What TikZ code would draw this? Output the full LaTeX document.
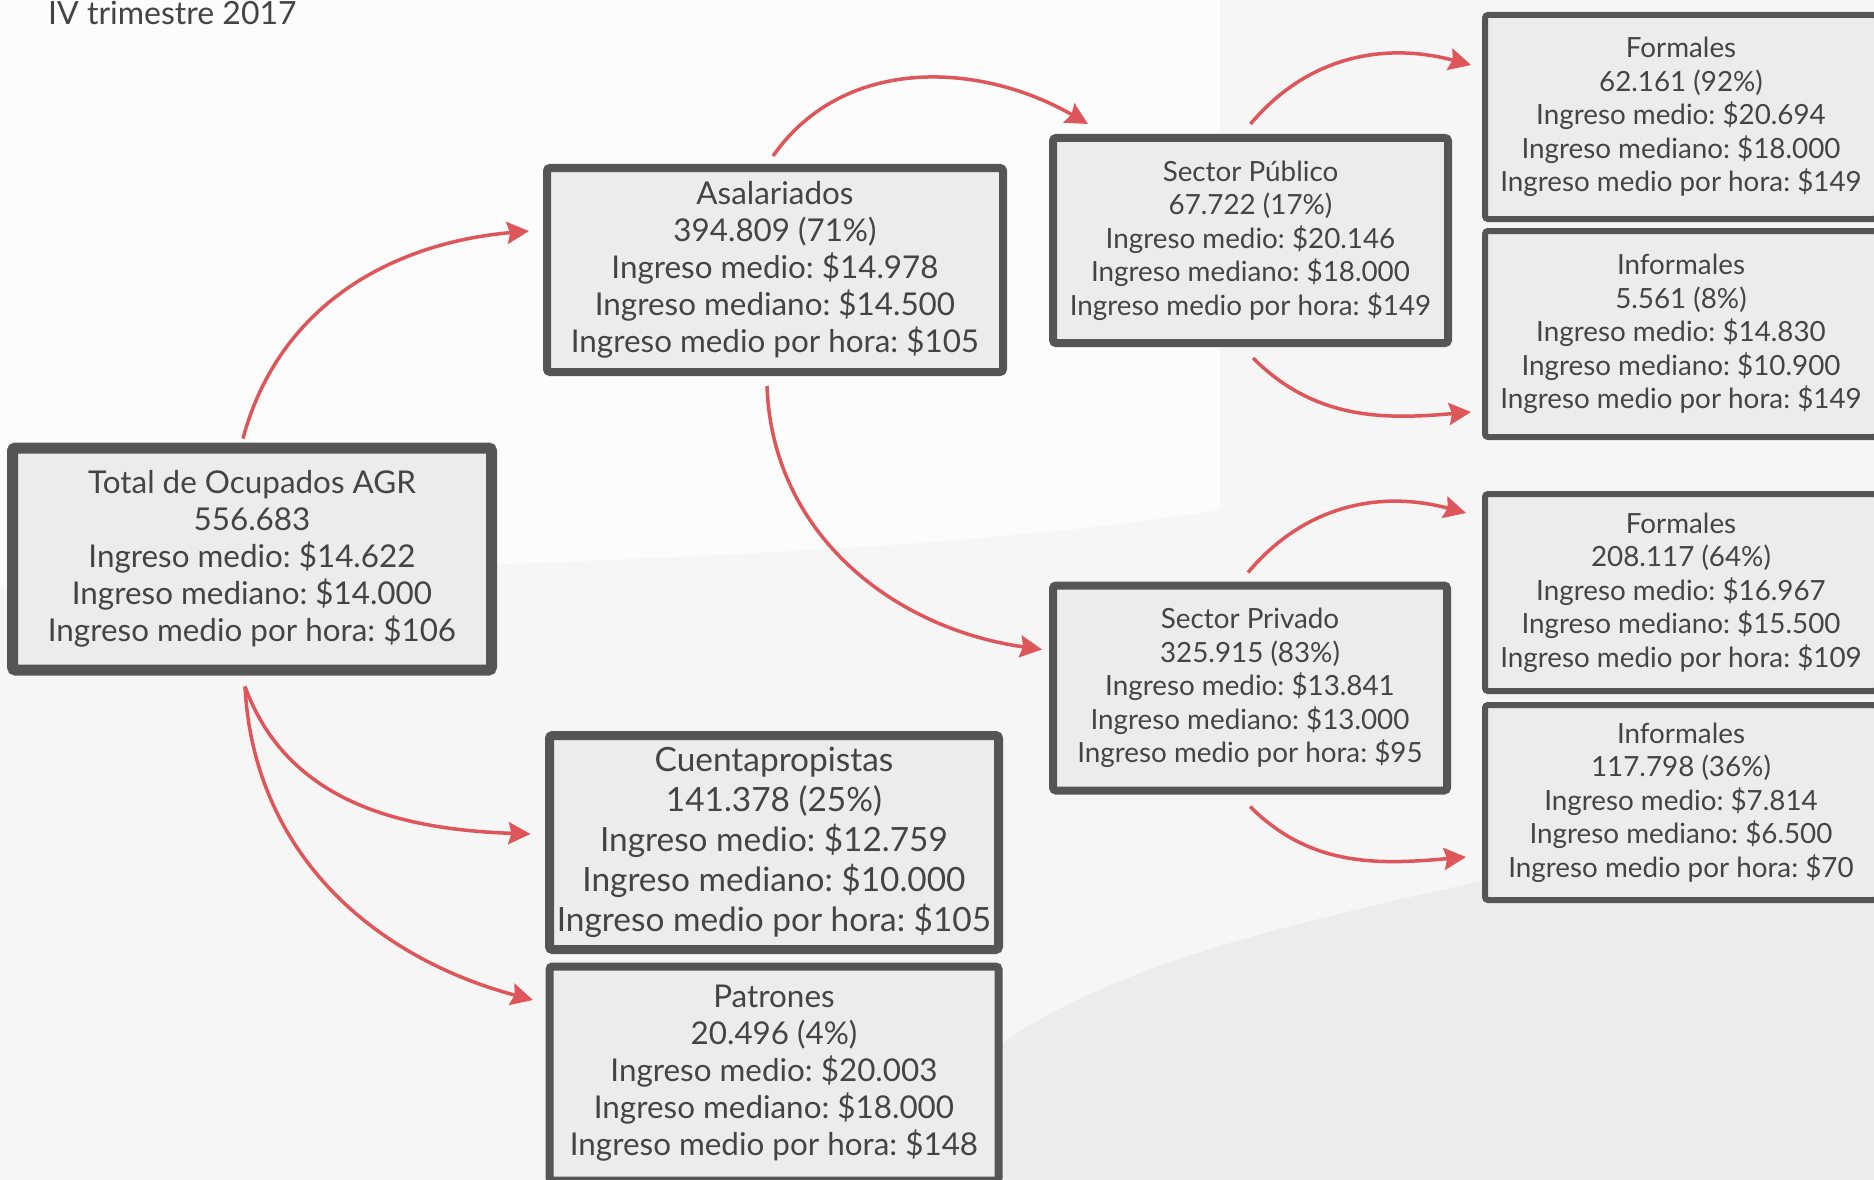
\documentclass[tikz,border=0pt]{standalone}
\usepackage{fontspec}
\setmainfont{Lato}
\usetikzlibrary{arrows.meta}
\definecolor{bord}{RGB}{85,85,85}
\definecolor{boxfill}{RGB}{236,236,236}
\definecolor{txt}{RGB}{68,68,68}
\definecolor{arrc}{RGB}{222,86,90}
\definecolor{bg}{RGB}{246,246,246}
\definecolor{bglight}{RGB}{252,252,252}
\definecolor{bgdark}{RGB}{236,236,236}
\frenchspacing
\begin{document}
\begin{tikzpicture}[x=1pt,y=1pt,
  box/.style={draw=bord, fill=boxfill, text=txt, align=center, rounded corners=3pt, inner sep=0pt},
  bigbox/.style={box, line width=11pt, font=\fontsize{31.4}{37}\selectfont},
  midbox/.style={box, line width=8pt, font=\fontsize{31.4}{37}\selectfont},
  cpbox/.style={box, line width=9pt, font=\fontsize{33.4}{40}\selectfont},
  smallbox/.style={box, line width=8pt, font=\fontsize{27.8}{33.5}\selectfont},
  rbox/.style={box, line width=6pt, font=\fontsize{27.8}{33.5}\selectfont},
  link/.style={draw=arrc, line width=3.5pt, -{Stealth[length=22pt,width=22pt,inset=3pt]}}
]
\clip (0,0) rectangle (1874,-1180);
% background
\fill[bg] (0,0) rectangle (1874,-1180);
\fill[bglight] (0,0) -- (1220,0) -- (1220,-510) .. controls (900,-560) and (500,-560) .. (0,-585) -- cycle;
\fill[bgdark] (880,-1180) .. controls (1000,-960) and (1250,-930) .. (1874,-800) -- (1874,-1180) -- cycle;
% title
\node[anchor=base west, text=txt, font=\fontsize{32}{38}\selectfont, inner sep=0pt] (title) at (48,-25) {IV trimestre 2017};
% boxes
\node[bigbox, minimum width=479pt, minimum height=222pt] (tot) at (252,-559)
  {Total de Ocupados AGR\\556.683\\Ingreso medio: \$14.622\\Ingreso mediano: \$14.000\\Ingreso medio por hora: \$106};
\node[midbox, minimum width=456pt, minimum height=204pt] (asal) at (775,-270)
  {Asalariados\\394.809 (71\%)\\Ingreso medio: \$14.978\\Ingreso mediano: \$14.500\\Ingreso medio por hora: \$105};
\node[cpbox, minimum width=449pt, minimum height=214pt] (cuen) at (774,-842.5)
  {Cuentapropistas\\141.378 (25\%)\\Ingreso medio: \$12.759\\Ingreso mediano: \$10.000\\Ingreso medio por hora: \$105};
\node[midbox, minimum width=449pt, minimum height=214pt] (patr) at (774,-1073.5)
  {Patrones\\20.496 (4\%)\\Ingreso medio: \$20.003\\Ingreso mediano: \$18.000\\Ingreso medio por hora: \$148};
\node[smallbox, minimum width=395pt, minimum height=205pt] (spub) at (1250.5,-240.5)
  {Sector Público\\67.722 (17\%)\\Ingreso medio: \$20.146\\Ingreso mediano: \$18.000\\Ingreso medio por hora: \$149};
\node[smallbox, minimum width=394pt, minimum height=205pt] (spriv) at (1250,-688)
  {Sector Privado\\325.915 (83\%)\\Ingreso medio: \$13.841\\Ingreso mediano: \$13.000\\Ingreso medio por hora: \$95};
\node[rbox, minimum width=392pt, minimum height=204pt] (f1) at (1681,-117)
  {Formales\\62.161 (92\%)\\Ingreso medio: \$20.694\\Ingreso mediano: \$18.000\\Ingreso medio por hora: \$149};
\node[rbox, minimum width=392pt, minimum height=206pt] (i1) at (1681,-334)
  {Informales\\5.561 (8\%)\\Ingreso medio: \$14.830\\Ingreso mediano: \$10.900\\Ingreso medio por hora: \$149};
\node[rbox, minimum width=392pt, minimum height=197pt] (f2) at (1681,-592.5)
  {Formales\\208.117 (64\%)\\Ingreso medio: \$16.967\\Ingreso mediano: \$15.500\\Ingreso medio por hora: \$109};
\node[rbox, minimum width=392pt, minimum height=195pt] (i2) at (1681,-802.5)
  {Informales\\117.798 (36\%)\\Ingreso medio: \$7.814\\Ingreso mediano: \$6.500\\Ingreso medio por hora: \$70};
% connectors
\draw[link] ([xshift=-9pt,yshift=4pt]tot.north) to[out=75,in=185] ([xshift=-14pt,yshift=39pt]asal.west);
\draw[link] ([xshift=-7pt,yshift=-11pt]tot.south) to[out=-70,in=178] ([xshift=-14.5pt,yshift=8.5pt]cuen.west);
\draw[link] ([xshift=-7pt,yshift=-11pt]tot.south) to[out=-87,in=165] ([xshift=-12.5pt,yshift=73.5pt]patr.west);
\draw[link] ([xshift=-2pt,yshift=8pt]asal.north) to[out=55,in=150] ([xshift=39pt,yshift=10pt]spub.north west);
\draw[link] ([xshift=-8pt,yshift=-10pt]asal.south) to[out=-88,in=172] ([xshift=-7pt,yshift=38.5pt]spriv.west);
\draw[link] ([yshift=10pt]spub.north) to[out=50,in=165] ([xshift=-11pt,yshift=52pt]f1.west);
\draw[link] ([xshift=2.5pt,yshift=-11pt]spub.south) to[out=-45,in=185] ([xshift=-11pt,yshift=-78pt]i1.west);
\draw[link] ([xshift=-2pt,yshift=9pt]spriv.north) to[out=50,in=165] ([xshift=-16pt,yshift=79.5pt]f2.west);
\draw[link] ([yshift=-12pt]spriv.south) to[out=-45,in=185] ([xshift=-16pt,yshift=-54.5pt]i2.west);
\end{tikzpicture}
\end{document}
